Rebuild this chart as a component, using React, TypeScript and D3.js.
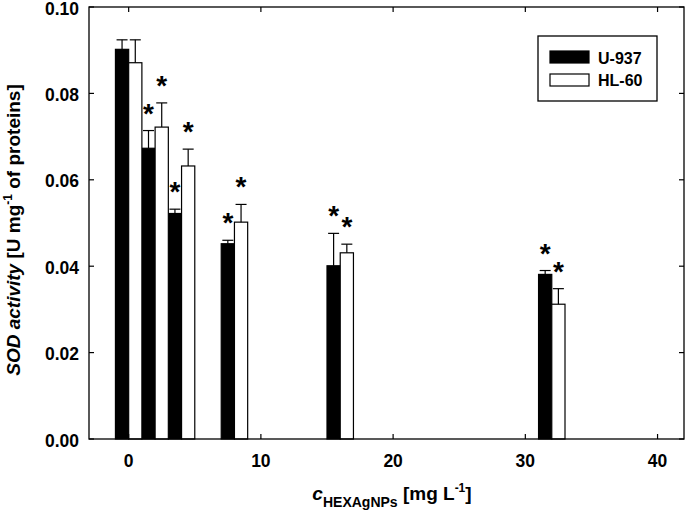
import React from 'react';
import * as d3 from 'd3';

// concentrations of HEXAgNPs [mg L-1]
const conc = [0, 2, 4, 8, 16, 32];
const u937 = [0.0902, 0.0673, 0.0522, 0.0452, 0.0401, 0.0381];
const u937Err = [0.0022, 0.0041, 0.001, 0.0008, 0.0075, 0.0009];
const hl60 = [0.0871, 0.0722, 0.0632, 0.0502, 0.0431, 0.0312];
const hl60Err = [0.0053, 0.0056, 0.0039, 0.0041, 0.002, 0.0036];
const u937Sig = [false, true, true, true, true, true];
const hl60Sig = [false, true, true, true, true, true];
const xTicks = [0, 10, 20, 30, 40];
const yTicks = [0, 0.02, 0.04, 0.06, 0.08, 0.1];

const W = 685;
const H = 513;
const margin = { top: 7, right: 1, bottom: 74, left: 89 };
const font = 'Liberation Sans, Arial, sans-serif';

export default function App() {
  const x = d3.scaleLinear().domain([-3, 42]).range([margin.left, W - margin.right]);
  const y = d3.scaleLinear().domain([0, 0.1]).range([H - margin.bottom, margin.top]);
  const x0 = margin.left;
  const x1 = W - margin.right;
  const y0 = H - margin.bottom;
  const y1 = margin.top;
  const barW = x(1) - x(0);
  const cap = 11;
  const tick = 5;

  const series = [
    { name: 'U-937', vals: u937, err: u937Err, sig: u937Sig, fill: '#000', off: -1 },
    { name: 'HL-60', vals: hl60, err: hl60Err, sig: hl60Sig, fill: '#fff', off: 0 },
  ];

  return (
    <svg
      width={W}
      height={H}
      style={{ position: 'absolute', left: 0, top: 0, background: '#fff' }}
      fontFamily={font}
    >
      {/* bars, error bars, asterisks */}
      {series.map((s) =>
        conc.map((c, i) => {
          const bx = x(c + s.off);
          const cx = bx + barW / 2;
          const top = y(s.vals[i] + s.err[i]);
          return (
            <g key={s.name + c}>
              <rect
                x={bx}
                y={y(s.vals[i])}
                width={barW}
                height={y0 - y(s.vals[i])}
                fill={s.fill}
                stroke="#000"
                strokeWidth={1.2}
              />
              <line x1={cx} x2={cx} y1={y(s.vals[i])} y2={top} stroke="#000" strokeWidth={1.2} />
              <line x1={cx - cap / 2} x2={cx + cap / 2} y1={top} y2={top} stroke="#000" strokeWidth={1.2} />
              {s.sig[i] && (
                <text x={cx} y={top - 8} textAnchor="middle" fontSize={28} fontWeight="bold">
                  *
                </text>
              )}
            </g>
          );
        })
      )}

      {/* frame */}
      <rect x={x0} y={y1} width={x1 - x0} height={y0 - y1} fill="none" stroke="#000" strokeWidth={1.3} />

      {/* x ticks */}
      {xTicks.map((t) => (
        <g key={'x' + t}>
          <line x1={x(t)} x2={x(t)} y1={y0} y2={y0 - tick} stroke="#000" strokeWidth={1.2} />
          <line x1={x(t)} x2={x(t)} y1={y1} y2={y1 + tick} stroke="#000" strokeWidth={1.2} />
          <text x={x(t)} y={y0 + 28} textAnchor="middle" fontSize={17.5} fontWeight="bold">
            {t}
          </text>
        </g>
      ))}

      {/* y ticks */}
      {yTicks.map((t) => (
        <g key={'y' + t}>
          <line x1={x0} x2={x0 + tick} y1={y(t)} y2={y(t)} stroke="#000" strokeWidth={1.2} />
          <line x1={x1} x2={x1 - tick} y1={y(t)} y2={y(t)} stroke="#000" strokeWidth={1.2} />
          <text x={x0 - 10} y={y(t) + 7.5} textAnchor="end" fontSize={17.5} fontWeight="bold">
            {t.toFixed(2)}
          </text>
        </g>
      ))}

      {/* axis titles */}
      <text x={392} y={500} textAnchor="middle" fontSize={19} fontWeight="bold">
        <tspan fontStyle="italic">c</tspan>
        <tspan fontSize={14} dy={7}>HEXAgNPs</tspan>
        <tspan dy={-7}> [mg L</tspan>
        <tspan fontSize={12} dy={-8}>-1</tspan>
        <tspan dy={8}>]</tspan>
      </text>
      <text
        transform={`translate(20, ${(y0 + y1) / 2 + 7}) rotate(-90)`}
        textAnchor="middle"
        fontSize={19}
        fontWeight="bold"
      >
        <tspan fontStyle="italic">SOD activity</tspan>
        <tspan> [U mg</tspan>
        <tspan fontSize={12} dy={-8}>-1</tspan>
        <tspan dy={8}> of proteins]</tspan>
      </text>

      {/* legend */}
      <rect x={538} y={36} width={119} height={65} fill="#fff" stroke="#000" strokeWidth={1.3} />
      {series.map((s, i) => (
        <g key={'leg' + s.name}>
          <rect x={550} y={51 + i * 23} width={39} height={12} fill={s.fill} stroke="#000" strokeWidth={1.2} />
          <text x={598} y={63.5 + i * 22} fontSize={16} fontWeight="bold">
            {s.name}
          </text>
        </g>
      ))}
    </svg>
  );
}
